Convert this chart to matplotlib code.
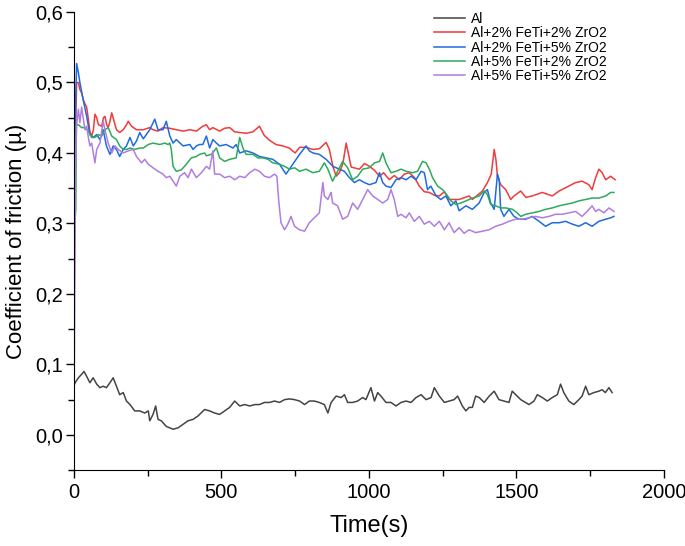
import matplotlib
matplotlib.use("Agg")
import matplotlib.pyplot as plt
from matplotlib.ticker import MultipleLocator, FuncFormatter

plt.rcParams['font.family'] = ['Liberation Sans', 'DejaVu Sans']

# series names and colours
labels = ['Al', 'Al+2% FeTi+2% ZrO2', 'Al+2% FeTi+5% ZrO2',
          'Al+5% FeTi+2% ZrO2', 'Al+5% FeTi+5% ZrO2']
colors = ['#444444', '#ef3b3b', '#1f6be0', '#2eaa5a', '#b07de0']

# (time s, coefficient of friction)
al = [(0, 0.07), (4, 0.074), (15, 0.081), (26, 0.086), (34, 0.09), (43, 0.083), (54, 0.074),
      (65, 0.081), (77, 0.072), (88, 0.067), (99, 0.069), (110, 0.067), (122, 0.074), (133, 0.081),
      (144, 0.069), (155, 0.057), (167, 0.06), (178, 0.048), (190, 0.043), (206, 0.034), (223, 0.034),
      (240, 0.031), (252, 0.034), (257, 0.02), (268, 0.029), (277, 0.041), (285, 0.022), (296, 0.02),
      (313, 0.012), (325, 0.01), (336, 0.008), (353, 0.01), (370, 0.015), (387, 0.02), (404, 0.022),
      (421, 0.027), (443, 0.036), (460, 0.034), (477, 0.031), (494, 0.029), (511, 0.034), (528, 0.039),
      (545, 0.048), (562, 0.041), (579, 0.043), (596, 0.041), (613, 0.043), (629, 0.043), (646, 0.046),
      (663, 0.046), (680, 0.048), (697, 0.046), (714, 0.05), (731, 0.051), (748, 0.05), (765, 0.048),
      (782, 0.043), (798, 0.048), (815, 0.048), (832, 0.046), (849, 0.043), (861, 0.031), (872, 0.046),
      (889, 0.055), (906, 0.053), (917, 0.057), (928, 0.046), (945, 0.046), (962, 0.048), (979, 0.053),
      (990, 0.05), (1007, 0.067), (1019, 0.048), (1030, 0.06), (1041, 0.055), (1058, 0.046),
      (1075, 0.046), (1092, 0.041), (1109, 0.046), (1126, 0.048), (1143, 0.046), (1160, 0.053),
      (1177, 0.057), (1194, 0.05), (1211, 0.053), (1222, 0.067), (1239, 0.055), (1256, 0.046),
      (1272, 0.048), (1289, 0.05), (1301, 0.055), (1317, 0.041), (1329, 0.034), (1340, 0.039),
      (1351, 0.039), (1362, 0.055), (1374, 0.053), (1391, 0.046), (1408, 0.055), (1425, 0.062),
      (1441, 0.05), (1458, 0.048), (1475, 0.046), (1486, 0.062), (1498, 0.057), (1515, 0.05),
      (1531, 0.046), (1543, 0.043), (1560, 0.048), (1571, 0.057), (1588, 0.053), (1605, 0.048),
      (1622, 0.053), (1639, 0.057), (1650, 0.072), (1661, 0.06), (1678, 0.048), (1695, 0.043),
      (1712, 0.05), (1723, 0.055), (1735, 0.069), (1746, 0.057), (1763, 0.06), (1780, 0.062),
      (1791, 0.064), (1802, 0.06), (1814, 0.067), (1825, 0.06)]

red = [(0, 0.17), (3, 0.30), (6, 0.45), (9, 0.50), (15, 0.50), (20, 0.49), (26, 0.485), (32, 0.475),
       (37, 0.47), (43, 0.465), (48, 0.45), (54, 0.43), (60, 0.424), (66, 0.433), (71, 0.455),
       (77, 0.45), (83, 0.44), (94, 0.438), (100, 0.45), (105, 0.452), (111, 0.44), (116, 0.436),
       (122, 0.445), (128, 0.457), (136, 0.445), (144, 0.433), (155, 0.429), (167, 0.433), (178, 0.44),
       (184, 0.445), (195, 0.438), (212, 0.433), (235, 0.433), (257, 0.436), (268, 0.433), (285, 0.431),
       (302, 0.436), (325, 0.435), (347, 0.433), (370, 0.431), (393, 0.433), (415, 0.431), (437, 0.438),
       (449, 0.44), (460, 0.433), (471, 0.436), (494, 0.431), (510, 0.435), (528, 0.436), (545, 0.43),
       (562, 0.429), (584, 0.428), (607, 0.43), (629, 0.438), (645, 0.425), (663, 0.418), (685, 0.412),
       (708, 0.41), (730, 0.407), (750, 0.40), (765, 0.408), (787, 0.408), (810, 0.405), (832, 0.406),
       (855, 0.415), (866, 0.405), (878, 0.381), (889, 0.367), (900, 0.372), (912, 0.385), (923, 0.414),
       (930, 0.40), (940, 0.38), (968, 0.377), (985, 0.385), (1002, 0.381), (1020, 0.375), (1036, 0.367),
       (1050, 0.372), (1069, 0.362), (1086, 0.368), (1103, 0.362), (1120, 0.37), (1137, 0.372),
       (1155, 0.365), (1171, 0.353), (1188, 0.345), (1205, 0.344), (1222, 0.34), (1239, 0.339),
       (1256, 0.345), (1272, 0.334), (1306, 0.334), (1340, 0.339), (1351, 0.334), (1385, 0.346),
       (1402, 0.358), (1415, 0.37), (1425, 0.405), (1431, 0.39), (1436, 0.367), (1447, 0.355),
       (1464, 0.348), (1481, 0.334), (1492, 0.339), (1515, 0.346), (1532, 0.337), (1554, 0.339),
       (1588, 0.344), (1622, 0.339), (1645, 0.346), (1678, 0.353), (1701, 0.358), (1723, 0.36),
       (1746, 0.355), (1757, 0.348), (1769, 0.365), (1780, 0.377), (1791, 0.372), (1803, 0.362),
       (1820, 0.367), (1835, 0.362)]

blue = [(0, 0.25), (3, 0.33), (6, 0.48), (9, 0.527), (15, 0.514), (20, 0.50), (31, 0.476), (43, 0.452),
        (54, 0.426), (65, 0.422), (77, 0.426), (88, 0.419), (99, 0.433), (110, 0.41), (122, 0.398),
        (133, 0.41), (144, 0.405), (155, 0.395), (167, 0.405), (178, 0.41), (190, 0.422), (201, 0.41),
        (212, 0.417), (223, 0.429), (235, 0.42), (257, 0.433), (274, 0.448), (285, 0.433), (302, 0.433),
        (313, 0.445), (325, 0.424), (336, 0.414), (347, 0.419), (370, 0.41), (393, 0.412), (404, 0.405),
        (415, 0.41), (426, 0.412), (437, 0.412), (449, 0.424), (460, 0.407), (471, 0.419), (483, 0.414),
        (494, 0.41), (516, 0.412), (539, 0.407), (550, 0.412), (562, 0.40), (584, 0.403), (607, 0.40),
        (629, 0.395), (652, 0.393), (674, 0.391), (697, 0.384), (708, 0.377), (719, 0.37), (742, 0.384),
        (765, 0.398), (787, 0.41), (798, 0.403), (810, 0.40), (832, 0.398), (855, 0.391), (878, 0.381),
        (900, 0.377), (917, 0.374), (934, 0.365), (951, 0.358), (968, 0.362), (985, 0.358),
        (1002, 0.355), (1024, 0.358), (1036, 0.372), (1047, 0.358), (1058, 0.353), (1075, 0.351),
        (1092, 0.362), (1109, 0.365), (1126, 0.362), (1143, 0.367), (1160, 0.362), (1177, 0.374),
        (1188, 0.372), (1199, 0.348), (1210, 0.353), (1228, 0.339), (1244, 0.334), (1261, 0.339),
        (1278, 0.325), (1295, 0.332), (1306, 0.318), (1329, 0.325), (1351, 0.32), (1374, 0.329),
        (1391, 0.344), (1402, 0.348), (1413, 0.329), (1425, 0.32), (1436, 0.37), (1442, 0.362),
        (1447, 0.32), (1458, 0.31), (1475, 0.32), (1492, 0.31), (1509, 0.306), (1532, 0.306),
        (1554, 0.31), (1577, 0.303), (1599, 0.296), (1622, 0.301), (1645, 0.301), (1667, 0.303),
        (1690, 0.299), (1712, 0.296), (1735, 0.301), (1757, 0.296), (1780, 0.303), (1803, 0.306),
        (1820, 0.308), (1831, 0.31)]

green = [(0, 0.25), (3, 0.30), (6, 0.32), (8, 0.44), (15, 0.44), (26, 0.436), (37, 0.436), (48, 0.431),
         (60, 0.422), (71, 0.422), (83, 0.426), (94, 0.424), (105, 0.433), (116, 0.436), (128, 0.424),
         (144, 0.419), (155, 0.41), (167, 0.405), (178, 0.405), (190, 0.407), (206, 0.405), (223, 0.407),
         (235, 0.407), (252, 0.412), (268, 0.414), (291, 0.412), (308, 0.414), (319, 0.412), (325, 0.414),
         (330, 0.405), (336, 0.381), (347, 0.374), (364, 0.376), (381, 0.384), (398, 0.393), (415, 0.395),
         (426, 0.398), (443, 0.40), (449, 0.396), (466, 0.398), (483, 0.407), (494, 0.393), (511, 0.388),
         (528, 0.391), (550, 0.393), (562, 0.422), (573, 0.407), (584, 0.398), (607, 0.398), (624, 0.393),
         (641, 0.393), (658, 0.391), (674, 0.386), (697, 0.384), (714, 0.381), (731, 0.377), (748, 0.379),
         (765, 0.374), (787, 0.377), (810, 0.372), (832, 0.374), (849, 0.386), (861, 0.377), (872, 0.365),
         (877, 0.36), (894, 0.374), (911, 0.388), (928, 0.379), (945, 0.362), (962, 0.367), (979, 0.377),
         (1002, 0.379), (1019, 0.386), (1036, 0.388), (1047, 0.40), (1058, 0.386), (1075, 0.372),
         (1092, 0.374), (1109, 0.377), (1126, 0.374), (1149, 0.372), (1165, 0.374), (1182, 0.388),
         (1194, 0.386), (1205, 0.377), (1216, 0.365), (1233, 0.353), (1250, 0.348), (1267, 0.339),
         (1278, 0.332), (1295, 0.327), (1312, 0.329), (1329, 0.332), (1351, 0.336), (1374, 0.339),
         (1391, 0.346), (1402, 0.341), (1413, 0.327), (1430, 0.325), (1447, 0.322), (1464, 0.322),
         (1487, 0.32), (1503, 0.315), (1515, 0.31), (1532, 0.313), (1554, 0.315), (1577, 0.317),
         (1599, 0.32), (1622, 0.322), (1645, 0.325), (1667, 0.327), (1690, 0.329), (1712, 0.332),
         (1735, 0.334), (1757, 0.336), (1780, 0.336), (1803, 0.339), (1820, 0.344), (1831, 0.344)]

purple = [(0, 0.01), (2, 0.15), (4, 0.30), (6, 0.40), (9, 0.44), (15, 0.462), (20, 0.443), (26, 0.465),
          (31, 0.45), (37, 0.433), (43, 0.438), (48, 0.424), (54, 0.41), (60, 0.414), (71, 0.386),
          (77, 0.405), (88, 0.414), (99, 0.445), (105, 0.433), (116, 0.414), (128, 0.40), (139, 0.41),
          (150, 0.405), (167, 0.40), (184, 0.403), (201, 0.405), (212, 0.395), (229, 0.386), (240, 0.391),
          (252, 0.384), (268, 0.379), (285, 0.374), (302, 0.37), (313, 0.365), (325, 0.367), (336, 0.36),
          (347, 0.353), (359, 0.367), (375, 0.372), (387, 0.365), (398, 0.377), (415, 0.365), (432, 0.372),
          (449, 0.381), (460, 0.377), (471, 0.403), (477, 0.37), (494, 0.37), (511, 0.365), (528, 0.367),
          (545, 0.362), (562, 0.367), (579, 0.365), (596, 0.372), (613, 0.377), (629, 0.374), (646, 0.367),
          (663, 0.365), (680, 0.37), (688, 0.367), (695, 0.329), (702, 0.301), (714, 0.291), (725, 0.299),
          (736, 0.31), (748, 0.296), (765, 0.291), (782, 0.289), (798, 0.301), (815, 0.308), (832, 0.315),
          (844, 0.358), (849, 0.339), (861, 0.334), (866, 0.339), (872, 0.344), (877, 0.329), (894, 0.325),
          (911, 0.306), (928, 0.31), (945, 0.329), (962, 0.32), (979, 0.334), (996, 0.348), (1013, 0.339),
          (1030, 0.334), (1047, 0.329), (1064, 0.334), (1075, 0.348), (1086, 0.334), (1098, 0.31),
          (1109, 0.313), (1126, 0.308), (1137, 0.315), (1154, 0.303), (1171, 0.31), (1188, 0.299),
          (1205, 0.303), (1222, 0.296), (1239, 0.303), (1256, 0.291), (1272, 0.301), (1289, 0.287),
          (1306, 0.294), (1323, 0.286), (1340, 0.291), (1362, 0.287), (1385, 0.289), (1408, 0.291),
          (1430, 0.296), (1453, 0.299), (1475, 0.303), (1498, 0.306), (1520, 0.306), (1543, 0.308),
          (1565, 0.31), (1588, 0.308), (1611, 0.31), (1633, 0.313), (1656, 0.313), (1678, 0.315),
          (1701, 0.317), (1723, 0.31), (1740, 0.317), (1757, 0.325), (1769, 0.317), (1780, 0.32),
          (1797, 0.315), (1814, 0.322), (1831, 0.317)]

series = [al, red, blue, green, purple]

fig = plt.figure(figsize=(6.85, 5.46), dpi=100)
ax = fig.add_axes([0.108, 0.139, 0.861, 0.839])

for data, lab, col in zip(series, labels, colors):
    t = [p[0] for p in data]
    mu = [p[1] for p in data]
    ax.plot(t, mu, color=col, lw=1.1, label=lab)

ax.set_xlim(0, 2000)
ax.set_ylim(-0.05, 0.6)
ax.xaxis.set_major_locator(MultipleLocator(500))
ax.xaxis.set_minor_locator(MultipleLocator(250))
ax.yaxis.set_major_locator(MultipleLocator(0.1))
ax.yaxis.set_minor_locator(MultipleLocator(0.05))
ax.yaxis.set_major_formatter(FuncFormatter(lambda v, p: f"{v:.1f}".replace('.', ',')))
ax.tick_params(which='major', direction='out', length=6, width=1, labelsize=14.5)
ax.tick_params(axis='y', which='major', pad=2)
ax.tick_params(which='minor', direction='out', length=4, width=1)
ax.spines['top'].set_visible(False)
ax.spines['right'].set_visible(False)

ax.set_xlabel('Time(s)', fontsize=17, labelpad=9)
ax.set_ylabel('Coefficient of friction (µ)', fontsize=16, labelpad=6)

ax.legend(loc='upper left', bbox_to_anchor=(0.59, 1.028), frameon=False, fontsize=10,
          handlelength=2.2, labelspacing=0.03, handletextpad=0.45)

fig.savefig('out.png', dpi=100)
